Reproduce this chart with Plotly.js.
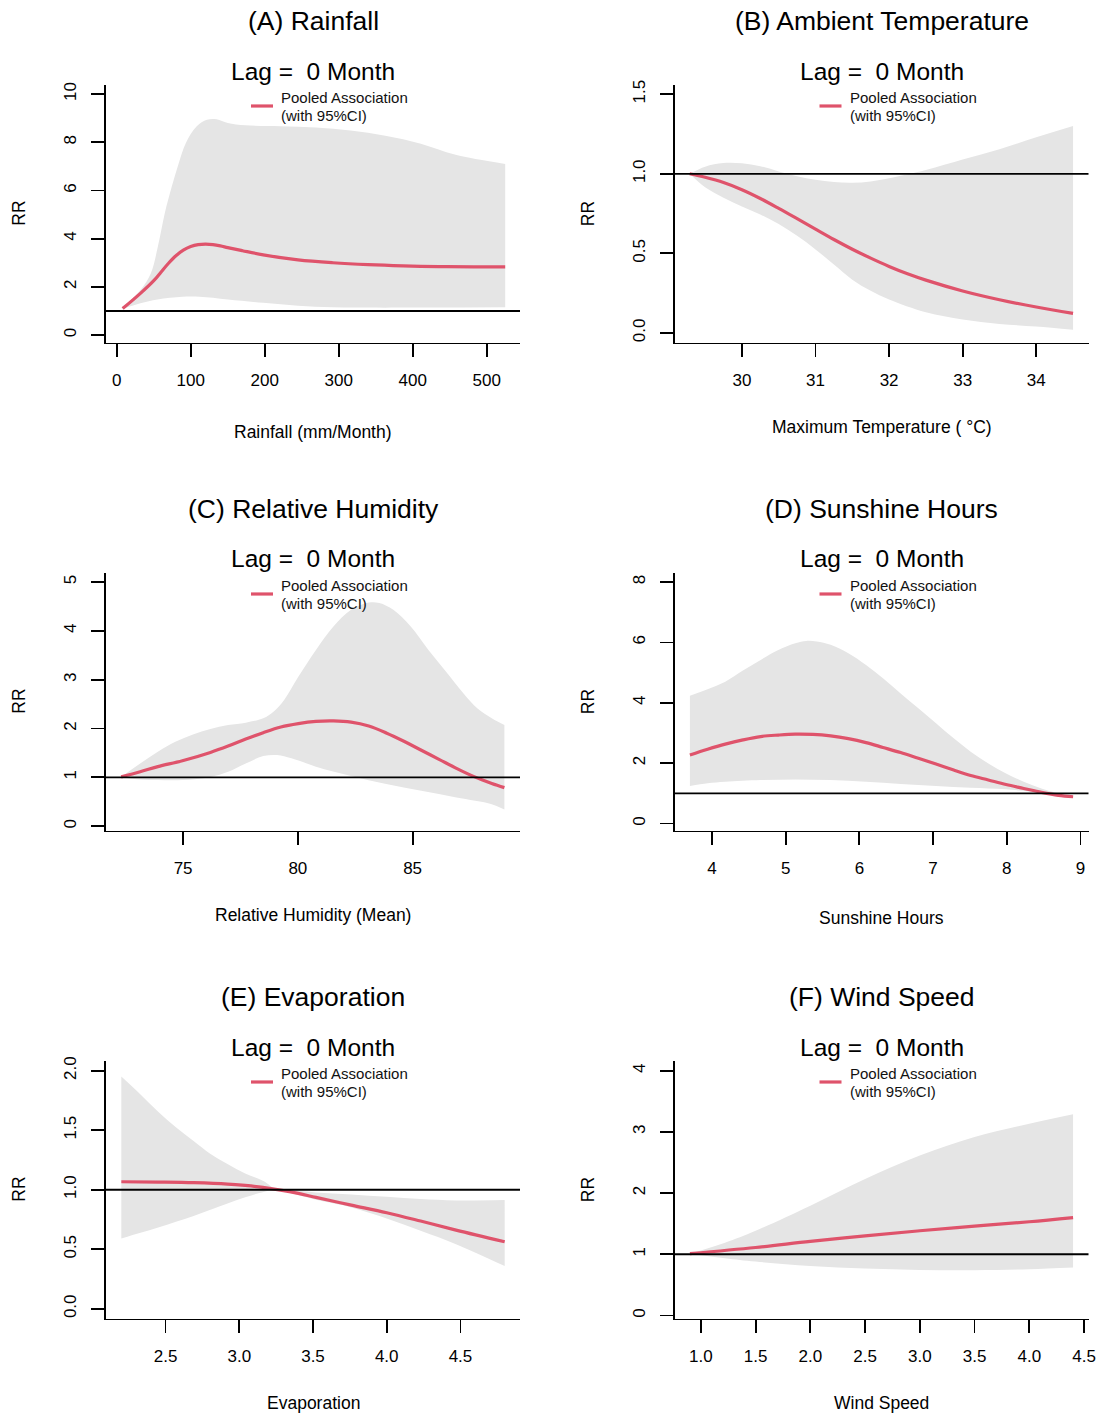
<!DOCTYPE html>
<html>
<head>
<meta charset="utf-8">
<script src="https://cdn.plot.ly/plotly-3.0.0.min.js"></script>
<style>html,body{margin:0;padding:0;background:#fff;}</style>
</head>
<body>
<div id="chart" style="width:1100px;height:1414px;"></div>
<script>
// ---------------- DATA ----------------
// (A) Rainfall
const rainX   = [8, 32, 51, 60, 70, 80, 90, 100, 110, 120, 130, 140, 150, 170, 198, 245, 292, 340, 387, 435, 482, 525];
const rainRR  = [1.10, 1.73, 2.29, 2.62, 2.98, 3.29, 3.52, 3.67, 3.75, 3.77, 3.75, 3.70, 3.63, 3.50, 3.33, 3.12, 3.00, 2.92, 2.87, 2.84, 2.83, 2.83];
const rainUpX = [8, 32, 46, 55.6, 65, 74.4, 83.8, 93.3, 107.8, 122, 135, 150, 174, 221, 269, 316, 363, 411, 458, 525];
const rainUp  = [1.12, 1.87, 2.56, 3.67, 5.06, 6.16, 7.13, 7.96, 8.65, 8.93, 8.95, 8.80, 8.70, 8.66, 8.61, 8.49, 8.27, 7.94, 7.48, 7.10];
const rainLoX = [8, 32, 55, 89, 112, 150, 198, 245, 292, 340, 400, 525];
const rainLo  = [1.09, 1.32, 1.48, 1.59, 1.59, 1.48, 1.34, 1.22, 1.15, 1.14, 1.14, 1.15];

// (B) Ambient Temperature
const tempX   = [29.29, 29.5, 29.75, 30.0, 30.25, 30.5, 30.75, 31.0, 31.25, 31.5, 31.75, 32.0, 32.25, 32.5, 33.0, 33.5, 34.0, 34.5];
const tempRR  = [1.0, 0.978, 0.945, 0.9, 0.845, 0.783, 0.718, 0.652, 0.587, 0.526, 0.47, 0.418, 0.372, 0.332, 0.264, 0.209, 0.163, 0.123];
const tempCiX = [29.29, 29.5, 29.75, 30.0, 30.25, 30.5, 30.75, 31.0, 31.25, 31.5, 31.75, 32.0, 32.5, 33.0, 33.5, 34.0, 34.5];
const tempUp  = [1.0, 1.045, 1.068, 1.066, 1.048, 1.015, 0.985, 0.962, 0.948, 0.944, 0.952, 0.972, 1.024, 1.09, 1.154, 1.229, 1.30];
const tempLo  = [1.0, 0.915, 0.85, 0.795, 0.745, 0.685, 0.61, 0.525, 0.43, 0.335, 0.265, 0.21, 0.13, 0.085, 0.057, 0.04, 0.02];

// (C) Relative Humidity
const humX    = [72.3, 73.13, 73.9, 74.97, 76.19, 76.96, 77.73, 78.49, 79.26, 80.02, 80.79, 81.55, 82.32, 83.09, 83.85, 84.62, 85.38, 86.15, 86.91, 87.68, 88.45, 89.0];
const humRR   = [1.01, 1.115, 1.22, 1.34, 1.51, 1.64, 1.785, 1.915, 2.03, 2.10, 2.145, 2.155, 2.13, 2.05, 1.91, 1.74, 1.555, 1.37, 1.185, 1.015, 0.876, 0.79];
const humUpX  = [72.3, 73.13, 73.9, 74.66, 75.43, 76.19, 76.96, 77.73, 78.49, 78.95, 79.41, 80.02, 80.79, 81.55, 82.32, 83.09, 83.55, 84.16, 84.92, 85.69, 86.45, 87.22, 87.83, 88.45, 89.0];
const humUp   = [1.01, 1.286, 1.525, 1.73, 1.88, 1.99, 2.07, 2.12, 2.21, 2.35, 2.59, 3.06, 3.61, 4.09, 4.43, 4.58, 4.57, 4.43, 4.09, 3.61, 3.17, 2.72, 2.41, 2.21, 2.07];
const humLoX  = [72.3, 73.13, 73.9, 74.97, 76.19, 76.96, 77.73, 78.49, 79.1, 79.72, 80.79, 82.32, 83.85, 85.38, 86.91, 88.45, 89.0];
const humLo   = [1.01, 0.958, 0.944, 0.944, 1.01, 1.115, 1.286, 1.436, 1.457, 1.39, 1.22, 1.03, 0.862, 0.725, 0.588, 0.451, 0.342];

// (D) Sunshine Hours
const sunX    = [3.70, 3.94, 4.18, 4.42, 4.66, 4.9, 5.13, 5.37, 5.61, 5.85, 6.09, 6.32, 6.56, 6.8, 7.04, 7.28, 7.51, 7.75, 7.99, 8.23, 8.47, 8.70, 8.90];
const sunRR   = [2.27, 2.46, 2.63, 2.77, 2.88, 2.93, 2.96, 2.95, 2.90, 2.81, 2.68, 2.52, 2.35, 2.16, 1.97, 1.77, 1.59, 1.44, 1.29, 1.16, 1.03, 0.93, 0.885];
const sunUpX  = [3.70, 3.94, 4.18, 4.42, 4.66, 4.9, 5.13, 5.28, 5.42, 5.61, 5.85, 6.09, 6.32, 6.56, 6.8, 7.04, 7.28, 7.51, 7.75, 7.99, 8.23, 8.47, 8.70, 8.90];
const sunUp   = [4.23, 4.45, 4.70, 5.07, 5.42, 5.75, 5.97, 6.05, 6.03, 5.92, 5.64, 5.25, 4.81, 4.31, 3.82, 3.32, 2.82, 2.38, 1.99, 1.66, 1.38, 1.16, 1.0, 0.91];
const sunLoX  = [3.70, 3.94, 4.18, 4.66, 5.13, 5.61, 6.09, 6.56, 7.04, 7.51, 7.99, 8.47, 8.70, 8.90];
const sunLo   = [1.24, 1.33, 1.38, 1.44, 1.46, 1.44, 1.38, 1.31, 1.24, 1.18, 1.13, 1.02, 0.94, 0.86];

// (E) Evaporation
const evapX   = [2.2, 2.45, 2.69, 2.92, 3.04, 3.16, 3.28, 3.4, 3.52, 3.76, 4.0, 4.23, 4.47, 4.8];
const evapRR  = [1.067, 1.064, 1.059, 1.048, 1.036, 1.02, 0.997, 0.969, 0.936, 0.871, 0.807, 0.737, 0.661, 0.563];
const evapCiX = [2.2, 2.33, 2.45, 2.57, 2.69, 2.80, 2.92, 3.04, 3.16, 3.26, 3.4, 3.52, 3.76, 4.0, 4.23, 4.47, 4.8];
const evapUp  = [1.95, 1.80, 1.655, 1.524, 1.409, 1.305, 1.216, 1.137, 1.076, 1.0, 0.992, 0.977, 0.961, 0.941, 0.922, 0.91, 0.913];
const evapLo  = [0.591, 0.639, 0.683, 0.731, 0.779, 0.829, 0.885, 0.936, 0.98, 1.0, 0.955, 0.915, 0.852, 0.759, 0.655, 0.543, 0.359];

// (F) Wind Speed
const windX   = [0.9, 1.5, 2.0, 2.5, 3.0, 3.5, 4.0, 4.4];
const windRR  = [1.01, 1.11, 1.21, 1.30, 1.384, 1.46, 1.532, 1.60];
const windCiX = [0.9, 1.22, 1.5, 2.0, 2.5, 3.0, 3.5, 4.0, 4.4];
const windUp  = [1.01, 1.19, 1.385, 1.795, 2.23, 2.615, 2.917, 3.135, 3.29];
const windLo  = [1.01, 0.936, 0.881, 0.81, 0.766, 0.744, 0.739, 0.755, 0.782];

// Titles and tick labels
const panelTitles = ['(A) Rainfall', '(B) Ambient Temperature', '(C) Relative Humidity', '(D) Sunshine Hours', '(E) Evaporation', '(F) Wind Speed'];
const xLabels = ['Rainfall (mm/Month)', 'Maximum Temperature ( \u00B0C)', 'Relative Humidity (Mean)', 'Sunshine Hours', 'Evaporation', 'Wind Speed'];
const lagTitle = 'Lag =  0 Month';
const legendLines = ['Pooled Association', '(with 95%CI)'];
const xTicks = [[0,100,200,300,400,500],[30,31,32,33,34],[75,80,85],[4,5,6,7,8,9],[2.5,3.0,3.5,4.0,4.5],[1.0,1.5,2.0,2.5,3.0,3.5,4.0,4.5]];
const yTicks = [[0,2,4,6,8,10],[0,0.5,1.0,1.5],[0,1,2,3,4,5],[0,2,4,6,8],[0,0.5,1.0,1.5,2.0],[0,1,2,3,4]];

// ---------------- LAYOUT ----------------
const W = 1100, H = 1414;
const FONT = 'Liberation Sans, Arial, Helvetica, sans-serif';
const RED = '#DF536B', GREY = '#E5E5E5';
const colLeft = [106, 674.5], plotW = 414;
const rowTop = [85, 573, 1061], plotH = 257.5;

const panels = [
  {fit:[rainX, rainRR], up:[rainUpX, rainUp], lo:[rainLoX, rainLo], xr:[-14.5, 545], yr:[-0.307, 10.373], xf:'', yf:'', xlabY:431.5},
  {fit:[tempX, tempRR], up:[tempCiX, tempUp], lo:[tempCiX, tempLo], xr:[29.084, 34.71], yr:[-0.06, 1.558], xf:'', yf:'.1f', xlabY:427.5},
  {fit:[humX, humRR], up:[humUpX, humUp], lo:[humLoX, humLo], xr:[71.64, 89.68], yr:[-0.088, 5.185], xf:'', yf:'', xlabY:915.5},
  {fit:[sunX, sunRR], up:[sunUpX, sunUp], lo:[sunLoX, sunLo], xr:[3.491, 9.109], yr:[-0.233, 8.30], xf:'', yf:'', xlabY:918},
  {fit:[evapX, evapRR], up:[evapCiX, evapUp], lo:[evapCiX, evapLo], xr:[2.096, 4.904], yr:[-0.081, 2.081], xf:'.1f', yf:'.1f', xlabY:1403},
  {fit:[windX, windRR], up:[windCiX, windUp], lo:[windCiX, windLo], xr:[0.759, 4.541], yr:[-0.05, 4.159], xf:'.1f', yf:'', xlabY:1403}
];

const traces = [];
const layout = {
  width: W, height: H, autosize: false,
  margin: {l:0, r:0, t:0, b:0, pad:0},
  paper_bgcolor: '#fff', plot_bgcolor: '#fff',
  showlegend: false,
  font: {family: FONT, color: '#000'},
  shapes: [], annotations: []
};

const px = x => x / W;
const py = y => 1 - y / H;
const SM = 1.0;

panels.forEach((p, i) => {
  const s = i === 0 ? '' : String(i + 1);
  const col = i % 2, row = Math.floor(i / 2);
  const L = colLeft[col], T = rowTop[row];
  const xa = 'x' + s, ya = 'y' + s;

  traces.push({x: p.lo[0], y: p.lo[1], xaxis: xa, yaxis: ya, type: 'scatter', mode: 'lines',
    line: {width: 0, color: 'rgba(0,0,0,0)', shape: 'spline', smoothing: SM}, hoverinfo: 'skip'});
  traces.push({x: p.up[0], y: p.up[1], xaxis: xa, yaxis: ya, type: 'scatter', mode: 'lines',
    fill: 'tonexty', fillcolor: GREY,
    line: {width: 0, color: 'rgba(0,0,0,0)', shape: 'spline', smoothing: SM}, hoverinfo: 'skip'});
  traces.push({x: p.fit[0], y: p.fit[1], xaxis: xa, yaxis: ya, type: 'scatter', mode: 'lines',
    line: {width: 3.2, color: RED, shape: 'spline', smoothing: SM}, name: 'Pooled Association'});

  const common = {
    showline: true, linecolor: '#000', linewidth: 1.8,
    ticks: 'outside', ticklen: 13, tickwidth: 1.8, tickcolor: '#000',
    tickfont: {family: FONT, size: 17, color: '#000'},
    showgrid: false, zeroline: false, fixedrange: true, mirror: false
  };
  layout['xaxis' + s] = Object.assign({}, common, {
    domain: [px(L), px(L + plotW)], range: p.xr, anchor: ya,
    tickmode: 'array', tickvals: xTicks[i], tickformat: p.xf, ticklabelstandoff: 8
  });
  layout['yaxis' + s] = Object.assign({}, common, {
    domain: [py(T + plotH), py(T)], range: p.yr, anchor: xa,
    tickmode: 'array', tickvals: yTicks[i], tickformat: p.yf, tickangle: -90, ticklabelstandoff: 8
  });

  // reference line RR = 1
  layout.shapes.push({type: 'line', xref: xa + ' domain', yref: ya, x0: 0, x1: 1, y0: 1, y1: 1,
    line: {color: '#000', width: 1.8}, layer: 'above'});
  // legend key
  layout.shapes.push({type: 'line', xref: 'paper', yref: 'paper',
    x0: px(L + 145), x1: px(L + 167), y0: py(T + 21), y1: py(T + 21),
    line: {color: RED, width: 3.2}});

  const cx = L + plotW / 2;
  const ann = (text, x, y, size, extra) => layout.annotations.push(Object.assign({
    text: text, xref: 'paper', yref: 'paper', x: px(x), y: py(y), showarrow: false,
    xanchor: 'center', yanchor: 'middle', font: {family: FONT, size: size, color: '#000'}
  }, extra || {}));

  ann(panelTitles[i], cx, 20.5 + 488 * row, 26.5);
  ann(lagTitle, cx, 71 + 488 * row, 24.5);
  ann(legendLines[0], L + 173, T + 12.5, 15, {xanchor: 'left', font: {family: FONT, size: 15, color: '#111'}});
  ann(legendLines[1], L + 173, T + 30.5, 15, {xanchor: 'left', font: {family: FONT, size: 15, color: '#111'}});
  ann(xLabels[i], cx, p.xlabY, 17.5);
  ann('RR', L - 87, T + plotH / 2, 17.5, {textangle: -90});
});

Plotly.newPlot('chart', traces, layout, {staticPlot: true, displayModeBar: false});
</script>
</body>
</html>
